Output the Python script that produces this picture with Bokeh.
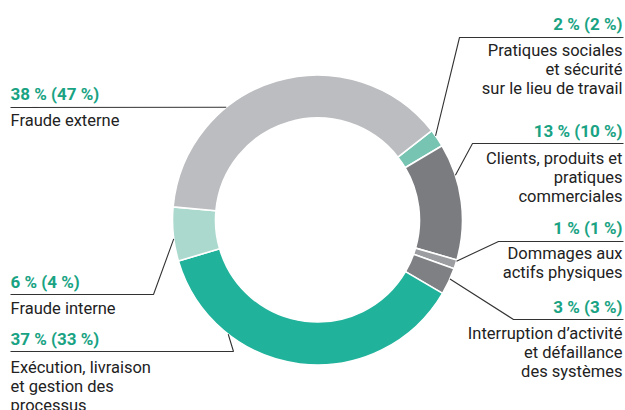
import math
from bokeh.plotting import figure
from bokeh.models import Range1d, ColumnDataSource
from bokeh.core.properties import value
from bokeh.embed import file_html
from bokeh.resources import INLINE

# ---- data ----
categories = [
    "Pratiques sociales\net sécurité\nsur le lieu de travail",
    "Clients, produits et\npratiques\ncommerciales",
    "Dommages aux\nactifs physiques",
    "Interruption d\u2019activité\net défaillance\ndes systèmes",
    "Exécution, livraison\net gestion des\nprocessus",
    "Fraude interne",
    "Fraude externe",
]
share_current = [2, 13, 1, 3, 37, 6, 38]
share_previous = [2, 10, 1, 3, 33, 4, 47]
colors = ["#77c4b3", "#7b7c80", "#9c9da1", "#7f8084", "#21b29b", "#acd9ce", "#bcbdc0"]

# ---- layout (image pixel coords: x right, y down) ----
W, H = 625, 410
CX, CY = 317, 219.5
R_OUT, R_IN = 145, 102
START_DEG = 52  # clockwise from 12 o'clock

layout = [
    dict(align="right", x=622, ypct=23, y0=50, anchor=54.5, pts=[(459, 37), (623, 37)]),
    dict(align="right", x=622, ypct=130, y0=158, anchor=72, pts=[(472, 143), (623, 143)]),
    dict(align="right", x=622, ypct=227, y0=253, anchor=106.5, pts=[(498, 241), (623, 241)]),
    dict(align="right", x=622, ypct=306, y0=333, anchor=114, pts=[(513, 319), (623, 319)]),
    dict(align="left", x=10, ypct=338, y0=367, anchor=218, pts=[(233, 351), (10, 351)]),
    dict(align="left", x=10, ypct=281.5, y0=308, anchor=262.5, pts=[(153, 294), (10, 294)]),
    dict(align="left", x=10, ypct=93, y0=120, anchor=321, pts=[(10, 107)]),
]
LINE_H = 18.8
FONT = "Roboto"
GREEN = "#19a383"
DARK = "#222222"

def fy(y):
    return H - y

p = figure(width=W, height=H, output_backend="svg", toolbar_location=None,
           x_range=Range1d(0, W), y_range=Range1d(0, H), min_border=0)
p.axis.visible = False
p.grid.visible = False
p.outline_line_color = None
p.background_fill_color = "white"
p.border_fill_color = "white"

total = sum(share_current)
starts, ends = [], []
acc = START_DEG
for v in share_current:
    a0 = acc
    a1 = acc + v / total * 360
    starts.append(math.radians(90 - a0))
    ends.append(math.radians(90 - a1))
    acc = a1
src = ColumnDataSource(dict(start=starts, end=ends, color=colors))
p.annular_wedge(x=CX, y=fy(CY), inner_radius=R_IN, outer_radius=R_OUT,
                start_angle="start", end_angle="end", direction="clock",
                fill_color="color", line_color="white", line_width=1.6, source=src)

for cat, cur, prev, lay in zip(categories, share_current, share_previous, layout):
    a = math.radians(lay["anchor"])
    ax = CX + R_OUT * math.sin(a)
    ay = CY - R_OUT * math.cos(a)
    xs = [ax] + [pt[0] for pt in lay["pts"]]
    ys = [fy(ay)] + [fy(pt[1]) for pt in lay["pts"]]
    p.line(xs, ys, line_color="#333333", line_width=1.1)
    p.text(x=[lay["x"]], y=[fy(lay["ypct"])], text=[f"{cur} % ({prev} %)"],
           text_font=value(FONT), text_font_style="bold", text_font_size="17px",
           text_color=GREEN, text_align=lay["align"], text_baseline="middle")
    for i, line in enumerate(cat.split("\n")):
        p.text(x=[lay["x"]], y=[fy(lay["y0"] + i * LINE_H)], text=[line],
               text_font=value(FONT), text_font_size="16.5px",
               text_color=DARK, text_align=lay["align"], text_baseline="middle")

open("out.html", "w").write(file_html(p, INLINE))
